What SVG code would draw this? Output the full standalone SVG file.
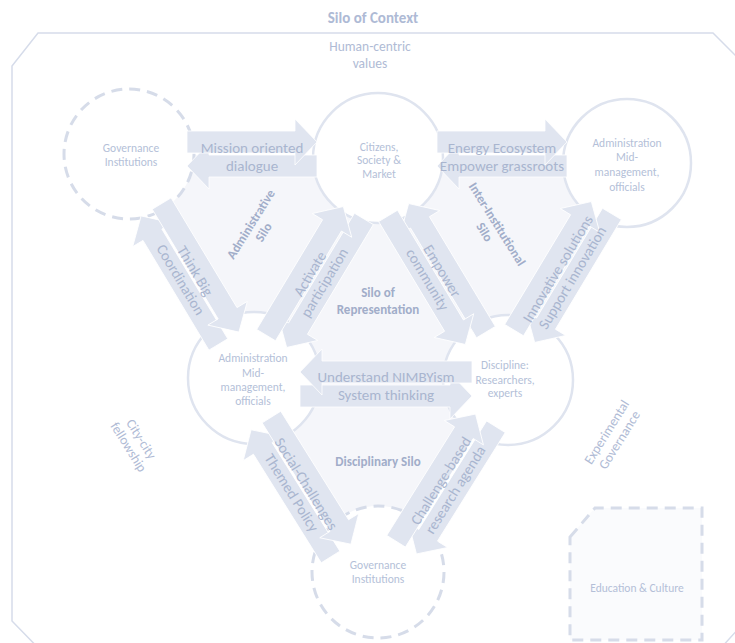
<svg xmlns="http://www.w3.org/2000/svg" width="735" height="643" viewBox="0 0 735 643">
<style>
text{font-family:Carlito,Lato,"Open Sans",sans-serif;text-anchor:middle}
.node circle{fill:#ffffff;stroke:#dfe4ef;stroke-width:2.5}
.node circle.dash{stroke:#d6dce9;stroke-width:3;stroke-dasharray:11 7}
.nt{font-size:11.5px;fill:#b4bfd8}
.arr path{fill:#e0e5f0;stroke:#ffffff;stroke-width:0.8}
.al{font-size:15px;fill:#a9b5cf}
.silo{font-size:13px;font-weight:bold;fill:#a1adc9}
.ctx{font-size:13.5px;fill:#b0bbd5}
</style>
<g id="frame">
<polygon points="38,33 713,33 760,80 760,605 710,660 50,660 12,621 12,66" fill="none" stroke="#d6dcea" stroke-width="1.5"/>
<polygon points="129,154 378,158 627,163 508,380 378,572 254,378" fill="#f5f6fa"/>
</g>
<text x="373" y="23" style="font-size:15px;font-weight:bold;fill:#aebad5">Silo of Context</text>
<text class="ctx" x="370" y="51">Human-centric</text>
<text class="ctx" x="370" y="68">values</text>
<g id="edu" class="node">
<path d="M570,537 L595,508 H702 V640 H570 Z" fill="#fafbfd" stroke="#d6dce9" stroke-width="3" stroke-dasharray="11 7"/>
<text class="nt" x="637" y="592">Education &amp; Culture</text>
</g>
<g id="gov-top" class="node"><circle class="dash" cx="129" cy="154" r="65"/></g>
<g id="citizens" class="node"><circle cx="378" cy="158" r="65"/></g>
<g id="admin-top" class="node"><circle cx="627" cy="163" r="64"/></g>
<g id="admin-mid" class="node"><circle cx="254" cy="378" r="66"/></g>
<g id="discipline" class="node"><circle cx="508" cy="380" r="65"/></g>
<g id="gov-bottom" class="node"><circle class="dash" cx="378" cy="572" r="66"/></g>
<g id="connectors" class="arr">
<g transform="translate(252,154)">
<path d="M65,1 H-43 V-11 L-65,12 L-43,35 V23 H65 Z"/>
<path d="M-65,-23 H43 V-35 L65,-12 L43,11 V-1 H-65 Z"/>
<text class="al" y="-1">Mission oriented</text><text class="al" y="17">dialogue</text>
</g>
<g transform="translate(502,154)">
<path d="M65,1 H-43 V-11 L-65,12 L-43,35 V23 H65 Z"/>
<path d="M-65,-23 H43 V-35 L65,-12 L43,11 V-1 H-65 Z"/>
<text class="al" y="-1">Energy Ecosystem</text><text class="al" y="17">Empower grassroots</text>
</g>
<g transform="translate(386,384)">
<path d="M-86,1 H64 V-11 L86,12 L64,35 V23 H-86 Z"/>
<path d="M86,-23 H-64 V-35 L-86,-12 L-64,11 V-1 H86 Z"/>
<text class="al" y="-2">Understand NIMBYism</text><text class="al" y="16">System thinking</text>
</g>
<g transform="translate(190,274) rotate(59)">
<path d="M75,1 H-53 V-11 L-75,12 L-53,35 V23 H75 Z"/>
<path d="M-75,-23 H53 V-35 L75,-12 L53,11 V-1 H-75 Z"/>
<text class="al" y="-1">Think Big</text><text class="al" y="16">Coordination</text>
</g>
<g transform="translate(315,277) rotate(-59)">
<path d="M75,1 H-53 V-11 L-75,12 L-53,35 V23 H75 Z"/>
<path d="M-75,-23 H53 V-35 L75,-12 L53,11 V-1 H-75 Z"/>
<text class="al" y="-1">Activate</text><text class="al" y="16">participation</text>
</g>
<g transform="translate(437,274) rotate(59)">
<path d="M75,-23 H-53 V-35 L-75,-12 L-53,11 V-1 H75 Z"/>
<path d="M-75,1 H53 V-11 L75,12 L53,35 V23 H-75 Z"/>
<text class="al" y="-1">Empower</text><text class="al" y="16">community</text>
</g>
<g transform="translate(563,272) rotate(-59)">
<path d="M75,1 H-53 V-11 L-75,12 L-53,35 V23 H75 Z"/>
<path d="M-75,-23 H53 V-35 L75,-12 L53,11 V-1 H-75 Z"/>
<text class="al" y="-1">Innovative solutions</text><text class="al" y="16">Support innovation</text>
</g>
<g transform="translate(301,487) rotate(58)">
<path d="M75,1 H-53 V-11 L-75,12 L-53,35 V23 H75 Z"/>
<path d="M-75,-23 H53 V-35 L75,-12 L53,11 V-1 H-75 Z"/>
<text class="al" y="-1">Social-Challenges</text><text class="al" y="16">Themed Policy</text>
</g>
<g transform="translate(446,484) rotate(-58)">
<path d="M75,1 H-53 V-11 L-75,12 L-53,35 V23 H75 Z"/>
<path d="M-75,-23 H53 V-35 L75,-12 L53,11 V-1 H-75 Z"/>
<text class="al" y="-1">Challenge-based</text><text class="al" y="16">research agenda</text>
</g>
</g>
<g id="node-texts">
<text class="nt" x="131" y="152">Governance</text>
<text class="nt" x="131" y="166">Institutions</text>
<text class="nt" x="379" y="151">Citizens,</text>
<text class="nt" x="379" y="164">Society &amp;</text>
<text class="nt" x="379" y="178">Market</text>
<text class="nt" x="627" y="147">Administration</text>
<text class="nt" x="627" y="161">Mid-</text>
<text class="nt" x="627" y="176">management,</text>
<text class="nt" x="627" y="191">officials</text>
<text class="nt" x="253" y="362">Administration</text>
<text class="nt" x="253" y="377">Mid-</text>
<text class="nt" x="253" y="391">management,</text>
<text class="nt" x="253" y="405">officials</text>
<text class="nt" x="505" y="369">Discipline:</text>
<text class="nt" x="505" y="384">Researchers,</text>
<text class="nt" x="505" y="397">experts</text>
<text class="nt" x="378" y="569">Governance</text>
<text class="nt" x="378" y="583">Institutions</text>
</g>
<g id="silo-labels">
<g transform="translate(257,228) rotate(-58)"><text class="silo" y="-3">Administrative</text><text class="silo" y="12">Silo</text></g>
<g transform="translate(491,228) rotate(58)"><text class="silo" y="-3">Inter-Institutional</text><text class="silo" y="12">Silo</text></g>
<text class="silo" x="378" y="297">Silo of</text>
<text class="silo" x="378" y="314">Representation</text>
<text class="silo" x="378" y="466">Disciplinary Silo</text>
<g transform="translate(135,443) rotate(58)"><text class="ctx" y="-3">City-city</text><text class="ctx" y="12">fellowship</text></g>
<g transform="translate(613,436) rotate(-58)"><text class="ctx" y="-3">Experimental</text><text class="ctx" y="12">Governance</text></g>
</g>
</svg>
